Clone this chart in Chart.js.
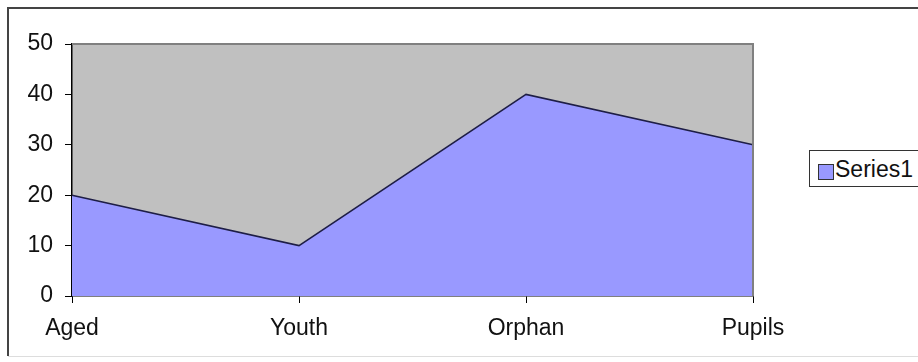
<!DOCTYPE html>
<html>
<head>
<meta charset="utf-8">
<script src="https://cdn.jsdelivr.net/npm/chart.js@4/dist/chart.umd.min.js"></script>
<style>
  html, body { margin: 0; padding: 0; background: #fff; overflow: hidden; }
  #wrap { position: relative; width: 918px; height: 362px; }
  #legend {
    position: absolute; left: 809px; top: 150px; width: 140px; height: 37px;
    border: 1px solid #333; background: #fff; box-sizing: border-box;
    font: 23px "Liberation Sans", Arial, sans-serif; color: #111;
  }
  #legend .swatch {
    position: absolute; left: 8px; top: 13px; width: 14px; height: 14px;
    background: #9999FF; border: 1px solid #333;
  }
  #legend .label { position: absolute; left: 25px; top: 5px; line-height: 26px; }
</style>
</head>
<body>
<div id="wrap">
  <canvas id="chart" width="918" height="362"></canvas>
  <div id="legend"><span class="swatch"></span><span class="label">Series1</span></div>
</div>
<script>
const categories = ['Aged', 'Youth', 'Orphan', 'Pupils'];
const series1 = [20, 10, 40, 30];
const yMin = 0;
const yMax = 50;
const yStep = 10;

const FONT = { family: '"Liberation Sans", Arial, sans-serif', size: 23 };

// grey plot background, plot frame and the outer chart frame
const chartFrame = {
  id: 'chartFrame',
  beforeDraw(chart) {
    const ctx = chart.ctx;
    const a = chart.chartArea;
    ctx.save();
    ctx.fillStyle = '#C0C0C0';
    ctx.fillRect(a.left, a.top, a.right - a.left, a.bottom - a.top);

    ctx.strokeStyle = '#444';
    ctx.lineWidth = 2;
    ctx.beginPath();
    ctx.moveTo(918, 8);
    ctx.lineTo(8, 8);
    ctx.lineTo(8, 356);
    ctx.stroke();
    ctx.strokeStyle = '#ddd';
    ctx.lineWidth = 1;
    ctx.beginPath();
    ctx.moveTo(8, 356.5);
    ctx.lineTo(918, 356.5);
    ctx.stroke();
    ctx.restore();
  },
  afterDatasetsDraw(chart) {
    const ctx = chart.ctx;
    const a = chart.chartArea;
    ctx.save();
    ctx.strokeStyle = '#808080';
    ctx.lineWidth = 2;
    ctx.beginPath();
    ctx.moveTo(a.left, a.top);
    ctx.lineTo(a.right, a.top);
    ctx.lineTo(a.right, a.bottom);
    ctx.stroke();
    ctx.restore();
  }
};

new Chart(document.getElementById('chart'), {
  type: 'line',
  data: {
    labels: categories,
    datasets: [{
      label: 'Series1',
      data: series1,
      fill: 'origin',
      backgroundColor: '#9999FF',
      borderColor: '#1e1e46',
      borderWidth: 1.5,
      pointRadius: 0,
      tension: 0
    }]
  },
  options: {
    responsive: false,
    animation: false,
    layout: { padding: { top: 44, right: 165, left: 0, bottom: 0 } },
    plugins: { legend: { display: false }, tooltip: { enabled: false } },
    scales: {
      x: {
        offset: false,
        afterFit: (scale) => { scale.height = 66; },
        grid: { drawOnChartArea: false, drawTicks: true, tickLength: 7, color: '#000' },
        border: { display: true, color: '#000', width: 1.5 },
        ticks: { font: FONT, color: '#111', padding: 12, autoSkip: false, maxRotation: 0 }
      },
      y: {
        min: yMin,
        max: yMax,
        afterFit: (scale) => { scale.width = 72; },
        grid: { drawOnChartArea: false, drawTicks: true, tickLength: 7, color: '#000' },
        border: { display: true, color: '#000', width: 1.5 },
        ticks: { stepSize: yStep, font: FONT, color: '#111', padding: 12 }
      }
    }
  },
  plugins: [chartFrame]
});
</script>
</body>
</html>
